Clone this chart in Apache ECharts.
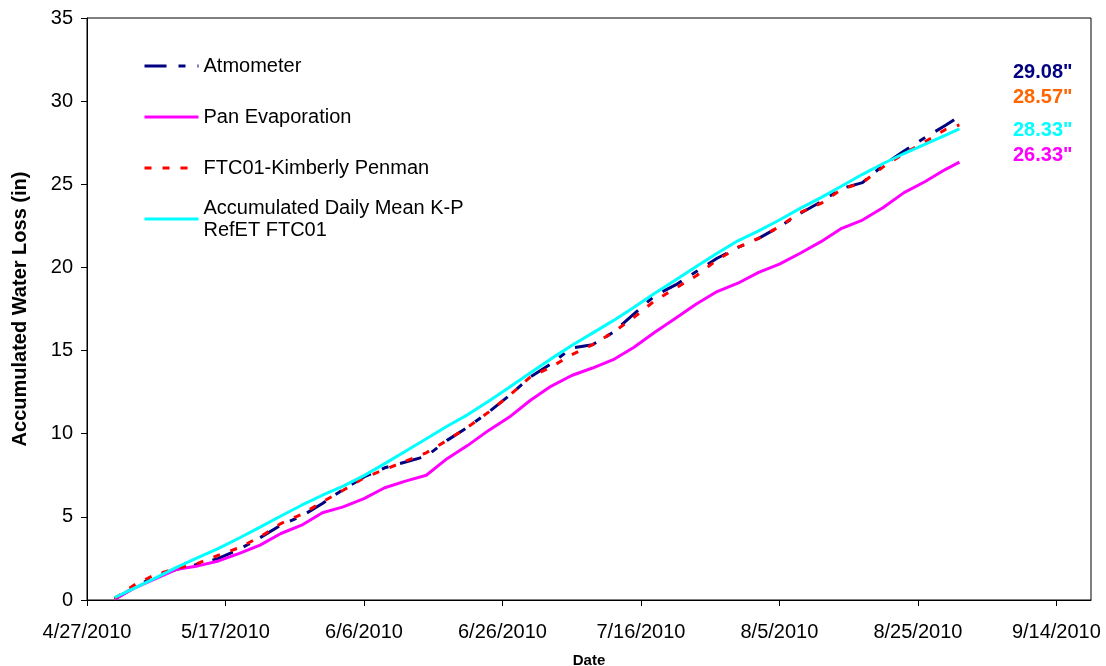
<!DOCTYPE html>
<html>
<head>
<meta charset="utf-8">
<script src="https://cdn.jsdelivr.net/npm/echarts@6/dist/echarts.min.js"></script>
<style>
  html, body { margin: 0; padding: 0; background: #fff; }
  #chart { width: 1106px; height: 666px; }
</style>
</head>
<body>
<div id="chart"></div>
<script>
// sample dates (every 3 days, 5/1 - 8/31/2010)
const dates = [
  '5/1/2010', '5/4/2010', '5/7/2010', '5/10/2010', '5/13/2010', '5/16/2010', '5/19/2010',
  '5/22/2010', '5/25/2010', '5/28/2010', '5/31/2010', '6/3/2010', '6/6/2010', '6/9/2010',
  '6/12/2010', '6/15/2010', '6/18/2010', '6/21/2010', '6/24/2010', '6/27/2010', '6/30/2010',
  '7/3/2010', '7/6/2010', '7/9/2010', '7/12/2010', '7/15/2010', '7/18/2010', '7/21/2010',
  '7/24/2010', '7/27/2010', '7/30/2010', '8/2/2010', '8/5/2010', '8/8/2010', '8/11/2010',
  '8/14/2010', '8/17/2010', '8/20/2010', '8/23/2010', '8/26/2010', '8/29/2010', '8/31/2010'
];

const atmometer = [
  0.05, 0.8, 1.45, 1.85, 2.15, 2.5, 3.05, 3.75, 4.5, 5.05, 5.8, 6.65, 7.4, 7.95,
  8.3, 8.65, 9.6, 10.4, 11.3, 12.3, 13.4, 14.2, 15.15, 15.35, 16.1, 17.2, 18.3, 18.95,
  19.75, 20.55, 21.2, 21.75, 22.45, 23.25, 23.95, 24.75, 25.1, 26.15, 27.0, 27.8, 28.55, 29.08
];
const panEvap = [
  0.05, 0.75, 1.3, 1.85, 2.05, 2.35, 2.8, 3.3, 4.0, 4.5, 5.25, 5.6, 6.1, 6.75,
  7.15, 7.5, 8.5, 9.3, 10.2, 11.0, 12.0, 12.85, 13.5, 13.95, 14.45, 15.2, 16.1, 16.95,
  17.8, 18.55, 19.05, 19.7, 20.2, 20.85, 21.55, 22.35, 22.85, 23.6, 24.5, 25.15, 25.9, 26.33
];
const kimberly = [
  0.1, 0.95, 1.55, 1.9, 2.2, 2.7, 3.15, 3.8, 4.6, 5.15, 5.9, 6.6, 7.35, 7.85,
  8.35, 8.85, 9.6, 10.4, 11.3, 12.3, 13.4, 14.0, 14.75, 15.35, 16.1, 17.0, 18.0, 18.75,
  19.5, 20.45, 21.2, 21.75, 22.45, 23.3, 23.85, 24.7, 25.1, 26.05, 26.85, 27.55, 28.3, 28.57
];
const dailyMeanKP = [
  0.15, 0.75, 1.35, 1.98, 2.55, 3.1, 3.73, 4.38, 5.05, 5.7, 6.3, 6.85, 7.48, 8.2,
  8.95, 9.7, 10.45, 11.15, 11.95, 12.8, 13.65, 14.5, 15.3, 16.05, 16.8, 17.6, 18.45, 19.25,
  20.05, 20.85, 21.6, 22.2, 22.85, 23.55, 24.2, 24.9, 25.6, 26.25, 26.85, 27.4, 27.95, 28.33
];

const endTotals = ['29.08"', '28.57"', '28.33"', '26.33"'];
const endColors = ['#000080', '#FF6600', '#00FFFF', '#FF00FF'];

const FONT = 'Arial, "Liberation Sans", sans-serif';
const START = new Date(2010, 3, 27);
const DAY = 86400000;

// x axis is days since 4/27/2010
const toDay = str => {
  const [m, d, y] = str.split('/').map(Number);
  return Math.round((new Date(y, m - 1, d) - START) / DAY);
};
const toLabel = day => {
  const dt = new Date(START.getTime() + day * DAY);
  return (dt.getMonth() + 1) + '/' + dt.getDate() + '/' + dt.getFullYear();
};
const pairs = values => dates.map((s, i) => [toDay(s), values[i]]);

const lineSerie = (name, values, color, type) => ({
  name,
  type: 'line',
  data: pairs(values),
  symbol: 'none',
  silent: true,
  lineStyle: { color, width: 3, type },
  itemStyle: { color },
});

// legend shows line only, hide the symbol drawn in the middle
const legendBase = {
  orient: 'vertical',
  left: 143, padding: 0,
  itemWidth: 54, itemHeight: 14,
  selectedMode: false,
  lineStyle: { width: 3 },
  itemStyle: { opacity: 0 },
};

const chart = echarts.init(document.getElementById('chart'));

const option = {
  animation: false,
  grid: {
    left: 87, top: 18, right: 15, bottom: 66,
    outerBoundsMode: 'none',
    show: true, borderColor: '#000', borderWidth: 1,
  },
  legend: [
    {
      ...legendBase,
      top: 55, itemGap: 29,
      textStyle: { fontFamily: FONT, fontSize: 20, color: '#000', lineHeight: 22 },
      data: ['Atmometer', 'Pan Evaporation', 'FTC01-Kimberly Penman'],
    },
    {
      ...legendBase,
      top: 186,
      textStyle: {
        fontFamily: FONT, fontSize: 20, color: '#000', lineHeight: 22,
        padding: [22, 0, 0, 0],
      },
      data: ['Accumulated Daily Mean K-P\nRefET FTC01'],
    },
  ],
  xAxis: {
    type: 'value',
    min: 0, max: 145, interval: 20,
    name: 'Date',
    nameLocation: 'middle',
    nameGap: 53,
    nameTextStyle: { fontFamily: FONT, fontSize: 15, fontWeight: 'bold', color: '#000' },
    axisLine: { show: true, lineStyle: { color: '#000', width: 1 } },
    axisTick: { show: true, length: 6, lineStyle: { color: '#000' } },
    axisLabel: {
      margin: 22, showMaxLabel: false,
      fontFamily: FONT, fontSize: 20, color: '#000',
      formatter: v => toLabel(v),
    },
    splitLine: { show: false },
  },
  yAxis: {
    type: 'value',
    min: 0, max: 35, interval: 5,
    name: 'Accumulated Water Loss (in)',
    nameLocation: 'middle',
    nameGap: 57,
    nameTextStyle: { fontFamily: FONT, fontSize: 20, fontWeight: 'bold', color: '#000' },
    axisLine: { show: true, lineStyle: { color: '#000', width: 1 } },
    axisTick: { show: true, length: 6, lineStyle: { color: '#000' } },
    axisLabel: { margin: 14, fontFamily: FONT, fontSize: 20, color: '#000' },
    splitLine: { show: false },
  },
  // end-of-season totals, right side
  graphic: endTotals.map((t, i) => ({
    type: 'text',
    left: 1013,
    top: [62, 87, 120, 145][i],
    style: { text: t, fill: endColors[i], font: 'bold 20px ' + FONT },
  })),
  series: [
    lineSerie('Atmometer', atmometer, '#000080', [22, 12, 7, 12]),
    lineSerie('Pan Evaporation', panEvap, '#FF00FF', 'solid'),
    lineSerie('FTC01-Kimberly Penman', kimberly, '#FF0000', [7, 11]),
    lineSerie('Accumulated Daily Mean K-P\nRefET FTC01', dailyMeanKP, '#00FFFF', 'solid'),
  ],
};

chart.setOption(option);
</script>
</body>
</html>
